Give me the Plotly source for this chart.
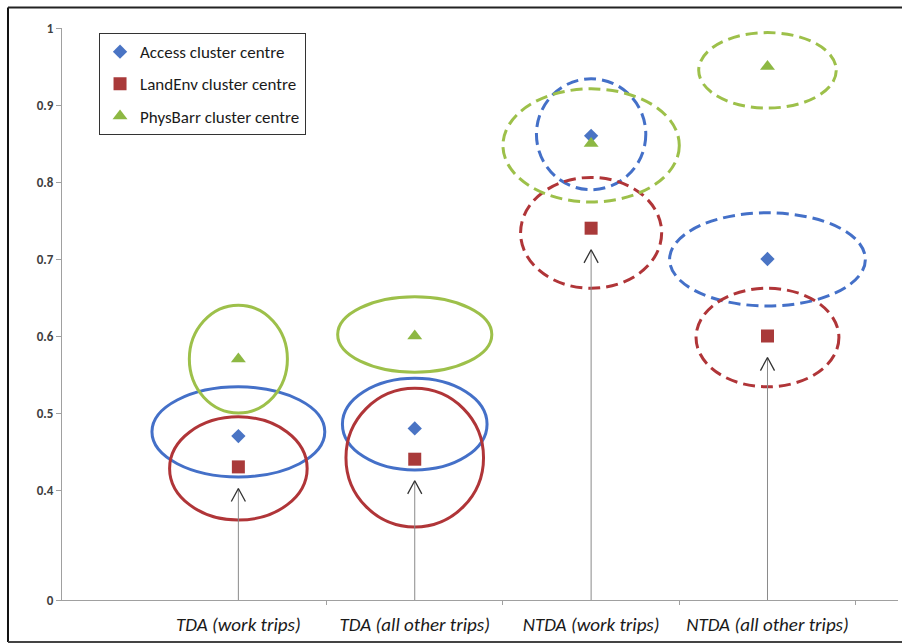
import plotly.graph_objects as go

# ---------------- data ----------------
categories = ["TDA (work trips)", "TDA (all other trips)", "NTDA (work trips)", "NTDA (all other trips)"]
cat_x = [1, 2, 3, 4]

access = [0.47, 0.48, 0.86, 0.70]
landenv = [0.43, 0.44, 0.74, 0.60]
physbarr = [0.57, 0.60, 0.85, 0.95]

# cluster spread (ellipse extents): x half-width in category units, y low / high in value units
access_xhw = [0.49, 0.41, 0.31, 0.555]
access_ylo = [0.417, 0.426, 0.790, 0.639]
access_yhi = [0.534, 0.545, 0.934, 0.760]
landenv_xhw = [0.39, 0.39, 0.40, 0.405]
landenv_ylo = [0.361, 0.352, 0.662, 0.534]
landenv_yhi = [0.495, 0.532, 0.806, 0.662]
physbarr_xhw = [0.278, 0.437, 0.50, 0.39]
physbarr_ylo = [0.500, 0.553, 0.774, 0.896]
physbarr_yhi = [0.640, 0.651, 0.921, 0.994]

y_tick_vals = [0.4, 0.5, 0.6, 0.7, 0.8, 0.9, 1.0]
y_tick_text = ["0.4", "0.5", "0.6", "0.7", "0.8", "0.9", "1"]

# ---------------- styling ----------------
FONT = "Carlito, Lato, 'Open Sans', sans-serif"
BLUE_M, RED_M, GREEN_M = "#4A74C4", "#A93A3A", "#8DB843"
BLUE_L, RED_L, GREEN_L = "#4470C8", "#B03538", "#9DC04A"

# axis break: value 0 drawn 110 px below 0.4 (0.1 = 77 px)
Y_ZERO = 0.4 - 110.0 / 770.0
Y_TOP = 1.0
X_MAX = 4.74

fig = go.Figure()

# arrows from axis to LandEnv centres
ax_x, ax_y, hd_x, hd_y = [], [], [], []
for x, v in zip(cat_x, landenv):
    tip = v - 0.028
    ax_x += [x, x, None]
    ax_y += [Y_ZERO, tip, None]
    hd_x += [x - 0.04, x, x + 0.04, None]
    hd_y += [tip - 0.017, tip, tip - 0.017, None]
fig.add_trace(go.Scatter(x=ax_x, y=ax_y, mode="lines", line=dict(color="#8a8a8a", width=1),
                         showlegend=False, hoverinfo="skip"))
fig.add_trace(go.Scatter(x=hd_x, y=hd_y, mode="lines", line=dict(color="#333333", width=1.3),
                         showlegend=False, hoverinfo="skip"))

series = [
    ("Access cluster centre", access, access_xhw, access_ylo, access_yhi, "diamond", 11, BLUE_M, BLUE_L),
    ("LandEnv cluster centre", landenv, landenv_xhw, landenv_ylo, landenv_yhi, "square", 13, RED_M, RED_L),
    ("PhysBarr cluster centre", physbarr, physbarr_xhw, physbarr_ylo, physbarr_yhi, "triangle-up", 13, GREEN_M, GREEN_L),
]

for name, vals, xhw, ylo, yhi, sym, size, mcol, lcol in series:
    for i, x in enumerate(cat_x):
        dashed = categories[i].startswith("NTDA")
        fig.add_shape(type="circle", xref="x", yref="y",
                      x0=x - xhw[i], x1=x + xhw[i], y0=ylo[i], y1=yhi[i],
                      line=dict(color=lcol, width=3, dash="12px,6px" if dashed else "solid"),
                      layer="below")

for name, vals, xhw, ylo, yhi, sym, size, mcol, lcol in series:
    fig.add_trace(go.Scatter(x=cat_x, y=vals, mode="markers", name=name, legendgroup=name,
                             marker=dict(symbol=sym, size=size, color=mcol, line=dict(width=0))))

# outer frame (left, top, bottom)
fig.add_shape(type="line", xref="paper", yref="paper", x0=-0.0646, x1=-0.0646, y0=-0.0734, y1=1.0358,
              line=dict(color="#111111", width=2))
fig.add_shape(type="line", xref="paper", yref="paper", x0=-0.0646, x1=1.02, y0=1.0358, y1=1.0358,
              line=dict(color="#222222", width=2))
fig.add_shape(type="line", xref="paper", yref="paper", x0=-0.0646, x1=1.02, y0=-0.0734, y1=-0.0734,
              line=dict(color="#444444", width=2))

fig.update_layout(
    width=902, height=644,
    margin=dict(l=62, r=4, t=28, b=44),
    paper_bgcolor="white", plot_bgcolor="white",
    font=dict(family=FONT, color="#1a1a1a"),
    showlegend=True,
    legend=dict(x=0.0443, y=0.991, xanchor="left", yanchor="top",
                bgcolor="white", bordercolor="#333333", borderwidth=1,
                font=dict(family=FONT, size=17, color="#1a1a1a"),
                tracegroupgap=7, itemsizing="trace"),
    xaxis=dict(range=[0, X_MAX], showgrid=False, zeroline=False,
               showline=True, linecolor="#a0a0a0", linewidth=1,
               tickmode="array", tickvals=cat_x, ticktext=categories,
               ticks="", ticklabelstandoff=7,
               tickfont=dict(family=FONT, size=19, style="italic", color="#1a1a1a"),
               minor=dict(tickmode="array", tickvals=[1.5, 2.5, 3.5, 4.5], ticks="outside",
                          ticklen=4, tickcolor="#a0a0a0")),
    yaxis=dict(range=[Y_ZERO, Y_TOP], showgrid=False, zeroline=False,
               showline=True, linecolor="#a0a0a0", linewidth=1,
               tickmode="array", tickvals=[Y_ZERO] + y_tick_vals, ticktext=["0"] + y_tick_text,
               ticks="outside", ticklen=5, tickcolor="#a0a0a0",
               tickfont=dict(family=FONT, size=13, weight="bold", color="#404040")),
)

fig.write_html("out.html",
               config={"displayModeBar": False},
               post_script="document.body.style.margin='0';document.body.style.padding='0';"
                           "document.documentElement.style.overflow='hidden';"
                           "document.body.style.overflow='hidden';")
